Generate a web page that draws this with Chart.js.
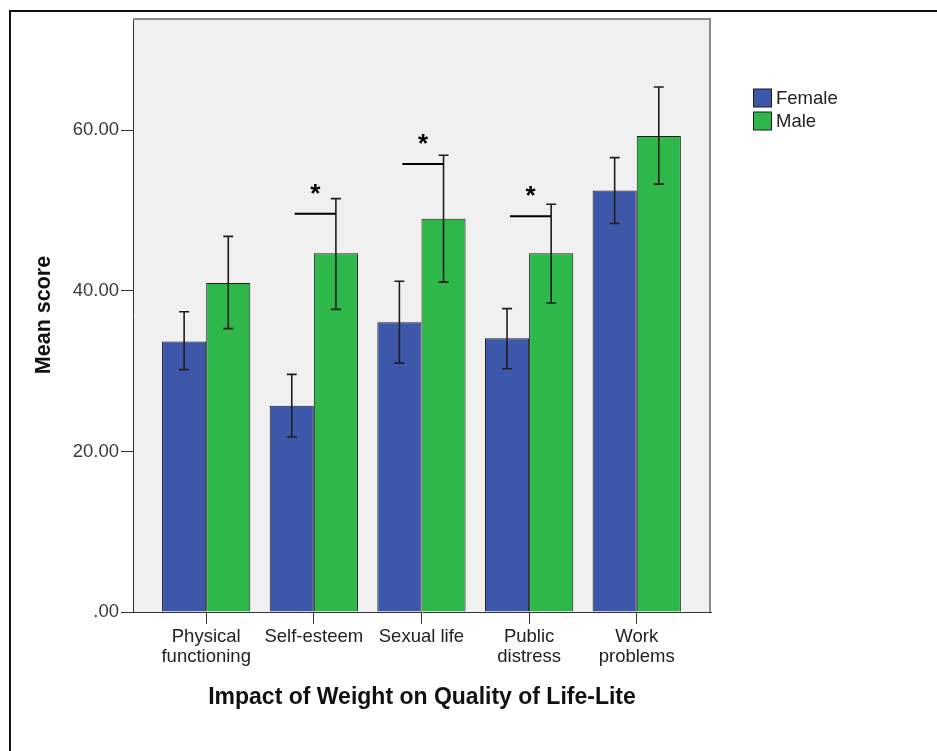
<!DOCTYPE html>
<html>
<head>
<meta charset="utf-8">
<script src="https://cdn.jsdelivr.net/npm/chart.js@4.4.1/dist/chart.umd.min.js"></script>
<style>
  html, body { margin: 0; padding: 0; background: #ffffff; }
  #wrap { width: 937px; height: 751px; }
</style>
</head>
<body>
<div id="wrap"><canvas id="chart" width="937" height="751"></canvas></div>
<script>
// IWQOL-Lite subscale means by sex, with 95% CI limits
const categories = [
  ['Physical', 'functioning'],
  ['Self-esteem'],
  ['Sexual life'],
  ['Public', 'distress'],
  ['Work', 'problems']
];
const femaleMean = [33.7, 25.7, 36.1, 34.1, 52.5];
const femaleLow  = [30.2, 21.8, 31.0, 30.3, 48.4];
const femaleHigh = [37.4, 29.6, 41.2, 37.8, 56.6];
const maleMean   = [41.0, 44.7, 49.0, 44.7, 59.3];
const maleLow    = [35.3, 37.7, 41.1, 38.5, 53.3];
const maleHigh   = [46.8, 51.5, 56.9, 50.8, 65.4];
// significant differences: category index and bracket height
const sigCategory = [1, 2, 3];
const sigLevel    = [49.6, 55.8, 49.3];
const yTickValues = [0, 20, 40, 60];
const yTickLabels = ['.00', '20.00', '40.00', '60.00'];

const FONT = '"Liberation Sans", Arial, Helvetica, sans-serif';

const plotBackground = {
  id: 'plotBackground',
  beforeDraw(chart) {
    const { ctx, chartArea: a } = chart;
    ctx.save();
    ctx.fillStyle = '#f0f0f0';
    ctx.fillRect(a.left, a.top, a.right - a.left, a.bottom - a.top);
    ctx.restore();
  },
  afterDraw(chart) {
    const { ctx, chartArea: a } = chart;
    ctx.save();
    // frame: top and right edges of the plot
    ctx.strokeStyle = '#8a8a8a';
    ctx.lineWidth = 2;
    ctx.beginPath();
    ctx.moveTo(a.left, a.top + 1);
    ctx.lineTo(a.right - 1, a.top + 1);
    ctx.lineTo(a.right - 1, a.bottom);
    ctx.stroke();
    // outer figure border
    ctx.strokeStyle = '#111';
    ctx.lineWidth = 2;
    ctx.beginPath();
    ctx.moveTo(10, 751);
    ctx.lineTo(10, 11);
    ctx.lineTo(937, 11);
    ctx.stroke();
    ctx.restore();
  }
};

const errorBars = {
  id: 'errorBars',
  afterDatasetsDraw(chart) {
    const { ctx } = chart;
    const y = chart.scales.y;
    const limits = [[femaleLow, femaleHigh], [maleLow, maleHigh]];
    ctx.save();
    ctx.strokeStyle = '#1e1e1e';
    ctx.lineWidth = 1.6;
    chart.data.datasets.forEach((ds, di) => {
      const meta = chart.getDatasetMeta(di);
      meta.data.forEach((bar, i) => {
        const x = bar.x;
        const y1 = y.getPixelForValue(limits[di][0][i]);
        const y2 = y.getPixelForValue(limits[di][1][i]);
        ctx.beginPath();
        ctx.moveTo(x, y1); ctx.lineTo(x, y2);
        ctx.moveTo(x - 5, y1); ctx.lineTo(x + 5, y1);
        ctx.moveTo(x - 5, y2); ctx.lineTo(x + 5, y2);
        ctx.stroke();
      });
    });
    // significance markers
    const fMeta = chart.getDatasetMeta(0);
    const mMeta = chart.getDatasetMeta(1);
    ctx.strokeStyle = '#000';
    ctx.lineWidth = 2;
    ctx.fillStyle = '#000';
    ctx.font = 'bold 26px ' + FONT;
    ctx.textAlign = 'center';
    ctx.textBaseline = 'alphabetic';
    sigCategory.forEach((c, k) => {
      const x1 = fMeta.data[c].x + 3;
      const x2 = mMeta.data[c].x;
      const yy = y.getPixelForValue(sigLevel[k]);
      ctx.beginPath();
      ctx.moveTo(x1, yy); ctx.lineTo(x2, yy);
      ctx.stroke();
      ctx.fillText('*', (x1 + x2) / 2, yy - 12);
    });
    ctx.restore();
  }
};

const sideLegend = {
  id: 'sideLegend',
  afterDraw(chart) {
    const { ctx } = chart;
    ctx.save();
    ctx.font = '18.5px ' + FONT;
    ctx.textAlign = 'left';
    ctx.textBaseline = 'middle';
    chart.data.datasets.forEach((ds, i) => {
      const cy = 98 + i * 23;
      ctx.fillStyle = ds.backgroundColor;
      ctx.fillRect(753.5, cy - 9, 18, 18);
      ctx.strokeStyle = '#1c1c1c';
      ctx.lineWidth = 1;
      ctx.strokeRect(753.5, cy - 9, 18, 18);
      ctx.fillStyle = '#222';
      ctx.fillText(ds.label, 776, cy + 1);
    });
    ctx.restore();
  }
};

new Chart(document.getElementById('chart'), {
  type: 'bar',
  data: {
    datasets: [
      {
        label: 'Female',
        data: femaleMean.map((v, i) => ({ x: i, y: v })),
        backgroundColor: '#3d57aa',
        borderColor: '#1c1c1c',
        borderWidth: 1
      },
      {
        label: 'Male',
        data: maleMean.map((v, i) => ({ x: i, y: v })),
        backgroundColor: '#2fb84a',
        borderColor: '#1c1c1c',
        borderWidth: 1
      }
    ]
  },
  options: {
    responsive: false,
    animation: false,
    events: [],
    barPercentage: 1,
    categoryPercentage: 0.82,
    layout: { padding: { left: 10, top: 18, right: 226, bottom: 0 } },
    plugins: {
      legend: { display: false },
      tooltip: { enabled: false }
    },
    scales: {
      x: {
        type: 'linear',
        offset: false,
        min: -0.68,
        max: 4.69,
        afterFit(scale) { scale.height = 139; },
        afterBuildTicks(scale) { scale.ticks = categories.map((c, i) => ({ value: i })); },
        grid: { offset: false, drawOnChartArea: false, drawTicks: true, tickLength: 12, color: '#333' },
        border: { display: true, color: '#333', width: 1 },
        ticks: {
          autoSkip: false,
          maxRotation: 0,
          padding: 3,
          color: '#222',
          font: { family: FONT, size: 18.5, lineHeight: '20px' },
          callback: (v) => categories[v] || ''
        },
        title: {
          display: true,
          text: 'Impact of Weight on Quality of Life-Lite',
          color: '#111',
          font: { family: FONT, size: 23, weight: 'bold' },
          padding: { top: 0, bottom: 40 }
        }
      },
      y: {
        min: 0,
        max: 74,
        afterFit(scale) { scale.width = 123; },
        afterBuildTicks(scale) { scale.ticks = yTickValues.map(v => ({ value: v })); },
        grid: { drawOnChartArea: false, drawTicks: true, tickLength: 12, color: '#333' },
        border: { display: true, color: '#333', width: 1 },
        ticks: {
          padding: 2,
          color: '#3a3a3a',
          font: { family: FONT, size: 18.5 },
          callback: (v) => yTickLabels[yTickValues.indexOf(v)]
        },
        title: {
          display: true,
          text: 'Mean score',
          color: '#111',
          font: { family: FONT, size: 21.5, weight: 'bold' },
          padding: { top: 21, bottom: 0 }
        }
      }
    }
  },
  plugins: [plotBackground, errorBars, sideLegend]
});
</script>
</body>
</html>
